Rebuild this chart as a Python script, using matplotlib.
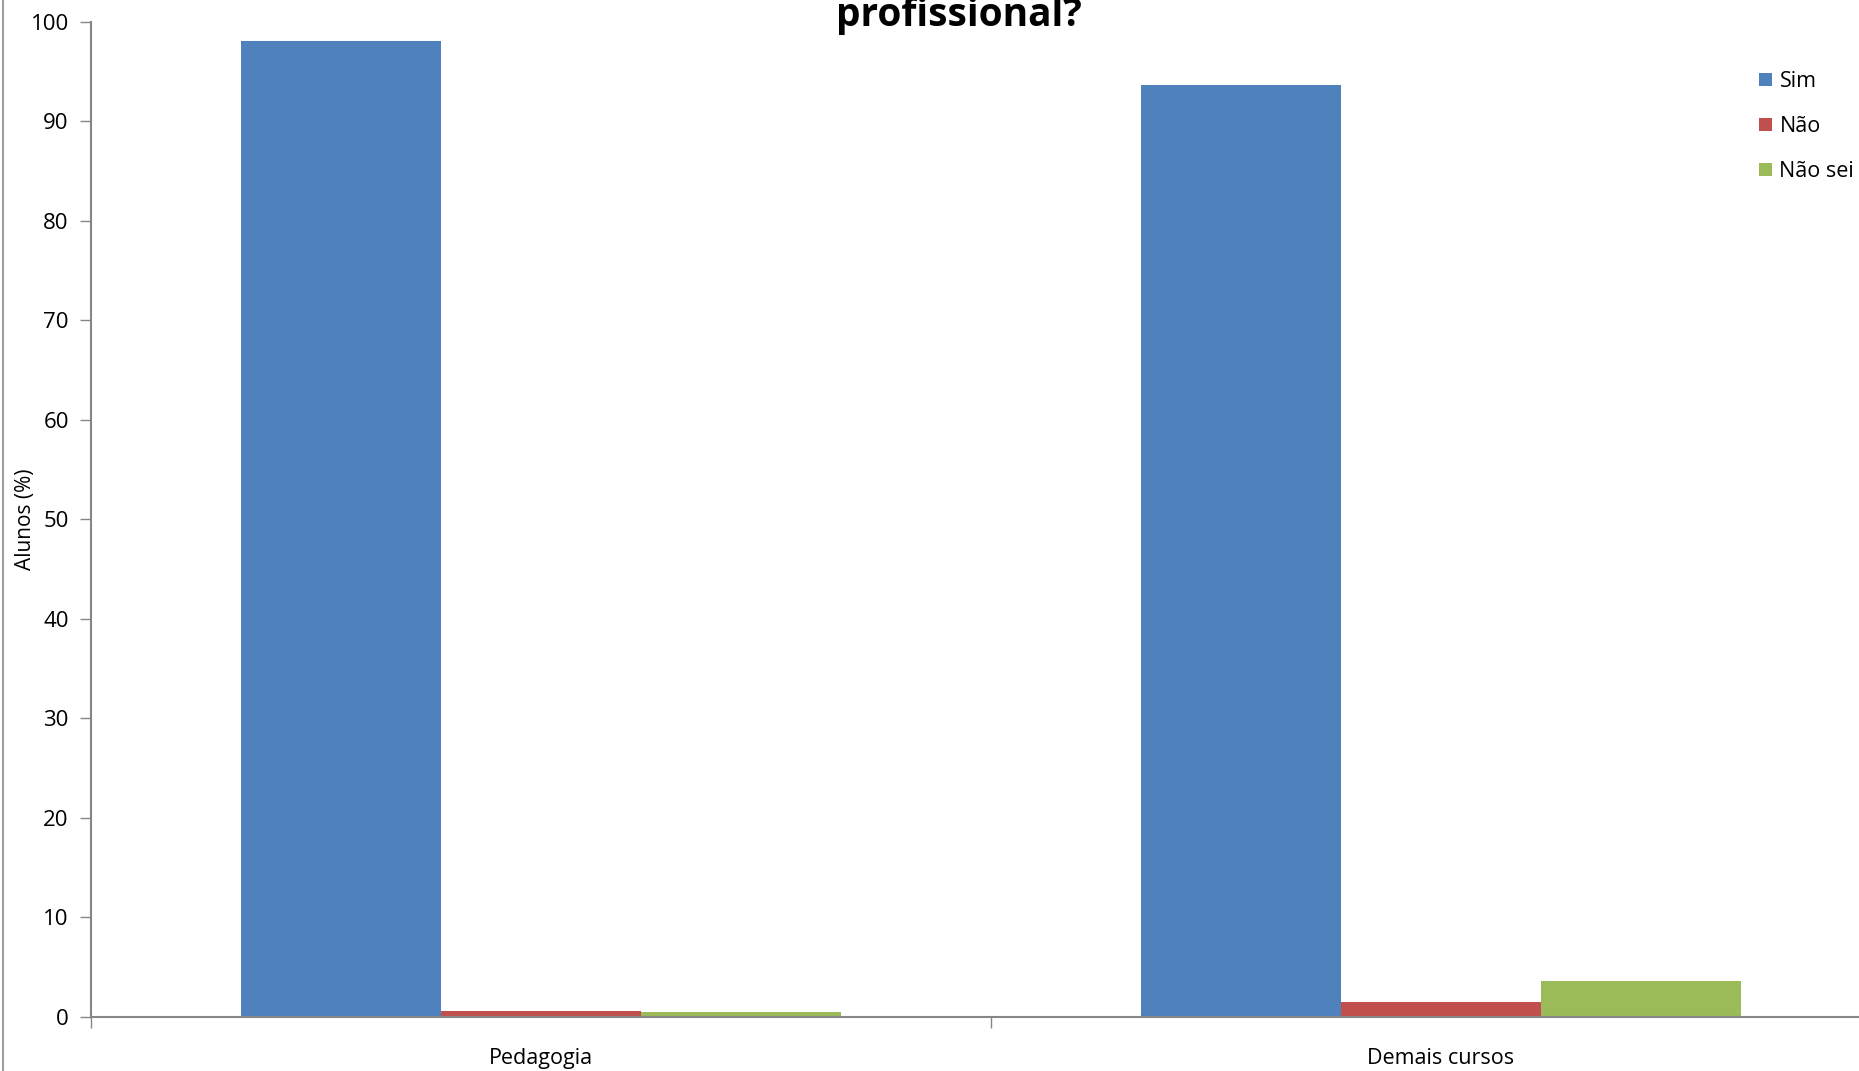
import matplotlib
matplotlib.use("Agg")
import matplotlib.pyplot as plt
from matplotlib.lines import Line2D
import numpy as np

plt.rcParams['font.family'] = ['Open Sans', 'DejaVu Sans']

cursos = ['Pedagogia', 'Demais cursos']
respostas = ['Sim', 'Não', 'Não sei']
sim = [98.0, 93.6]
nao = [0.6, 1.55]
nao_sei = [0.55, 3.6]
cores = ['#4F81BD', '#C0504D', '#9BBB59']
yticks = [0, 10, 20, 30, 40, 50, 60, 70, 80, 90, 100]

W, H = 1859, 1071
fig = plt.figure(figsize=(W / 100, H / 100), dpi=100)
# axes runs past the right edge, as in the cropped screenshot
ax = fig.add_axes([91 / W, 1 - 1017 / H, 1800 / W, (1017 - 21.5) / H])

x = np.arange(len(cursos))
w = 1 / 4.5
bars = []
for i, (vals, cor) in enumerate(zip([sim, nao, nao_sei], cores)):
    b = ax.bar(x + (i - 1) * w, vals, w, color=cor, label=respostas[i],
               edgecolor='none', zorder=2)
    bars.append(b)

ax.set_xlim(-0.5, 1.5)
ax.set_ylim(0, 100)
ax.set_yticks(yticks)
ax.set_xticks([-0.5, 0.5, 1.5])
ax.set_xticklabels([])
ax.set_xticks(x, minor=True)
ax.set_xticklabels(cursos, minor=True)
ax.tick_params(axis='x', which='minor', length=0, pad=22, labelsize=15.5)
ax.tick_params(axis='x', which='major', length=8, width=1, color='#868686',
               direction='out')
ax.tick_params(axis='y', length=8, width=1, color='#868686', direction='out',
               labelsize=16, pad=8)

for s in ['top', 'right']:
    ax.spines[s].set_visible(False)
for s in ['left', 'bottom']:
    ax.spines[s].set_color('#868686')
    ax.spines[s].set_linewidth(1.5)

ax.set_ylabel('Alunos (%)', fontsize=15)
ax.yaxis.set_label_coords(-55 / 1800, 0.5)

# title is cut off by the top edge, as in the screenshot
fig.text(959 / W, 1 - 26 / H, 'profissional?', ha='center', va='baseline',
         fontsize=28, fontweight='bold')

fig.legend(handles=bars, labels=respostas, loc='upper left',
           bbox_to_anchor=(1759 / W, 1 - 71 / H), frameon=False,
           borderpad=0, borderaxespad=0,
           fontsize=15.5, handlelength=0.6, handleheight=0.6,
           handletextpad=0.35, labelspacing=1.12)

fig.add_artist(Line2D([2.5 / W, 2.5 / W], [0, 1], color='#A0A0A0', lw=1.5))

fig.savefig('out.png', dpi=100)
